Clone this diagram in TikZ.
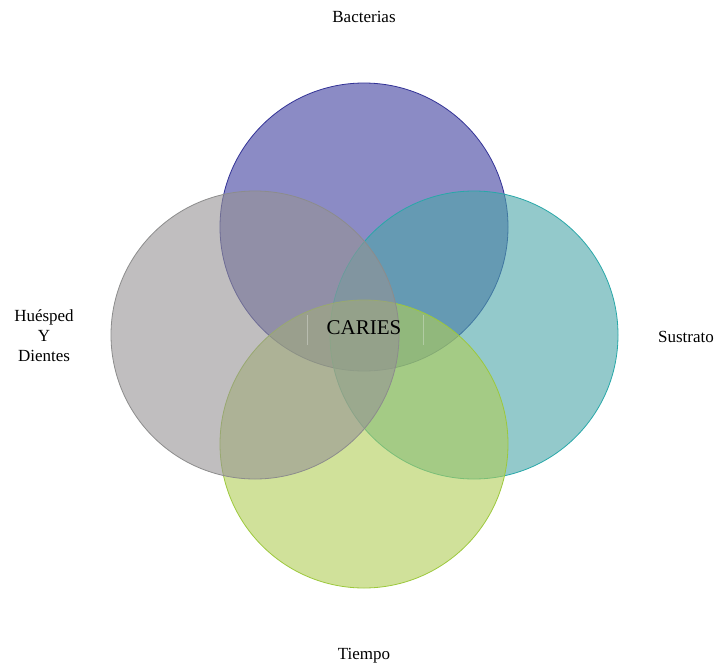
\documentclass[tikz,border=0pt]{standalone}
\usepackage{fontspec}
\setmainfont{Liberation Serif}
\definecolor{cTop}{RGB}{62,62,158}
\definecolor{cLeft}{RGB}{150,147,148}
\definecolor{cRight}{RGB}{75,165,168}
\definecolor{cBot}{RGB}{177,205,87}
\definecolor{sTop}{RGB}{50,50,150}
\definecolor{sLeft}{RGB}{140,140,140}
\definecolor{sRight}{RGB}{40,168,168}
\definecolor{sBot}{RGB}{156,200,60}
\tikzset{
  venn/.style={circle, minimum size=288pt, inner sep=0pt, line width=0.8pt, fill opacity=0.6, draw opacity=1},
  lab/.style={font=\fontsize{17}{20}\selectfont, align=center, text=black},
}
\begin{document}
\begin{tikzpicture}[x=1pt,y=-1pt]
\useasboundingbox (0,0) rectangle (714,663);
\node[venn, fill=cTop, draw=sTop] (top) at (364,227) {};
\node[venn, fill=cRight, draw=sRight] (right) at (474,335) {};
\node[venn, fill=cBot, draw=sBot] (bot) at (364,444) {};
\node[venn, fill=cLeft, draw=sLeft] (left) at (255,335) {};
\draw[white, opacity=0.3, line width=0.5pt] (307,315) -- (307,345) (423,315) -- (423,345);
\node[font=\fontsize{21}{24}\selectfont] (caries) at (364,328) {CARIES};
\node[lab] (lb) at (364,17) {Bacterias};
\node[lab] (ls) at (686,337) {Sustrato};
\node[lab] (lt) at (364,656) {Tiempo};
\node[lab] (lh) at (44,336) {Huésped\\Y\\Dientes};
\end{tikzpicture}
\end{document}
